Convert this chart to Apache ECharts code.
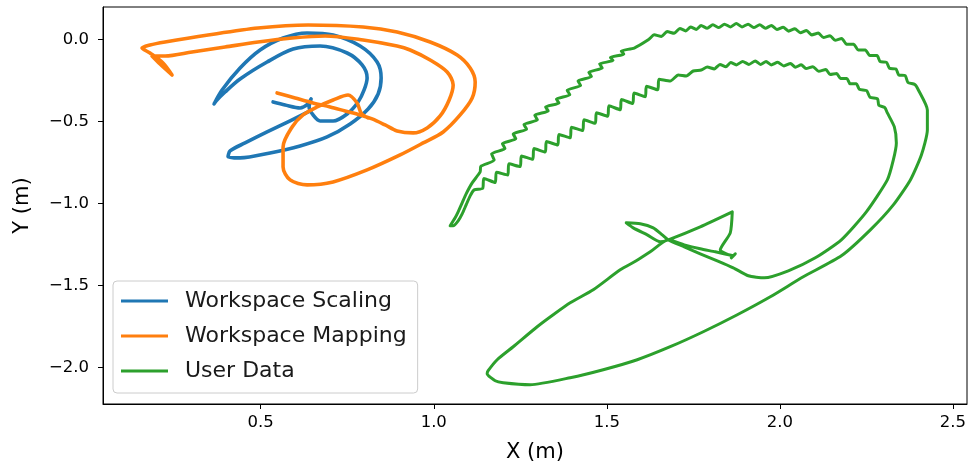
<!DOCTYPE html>
<html>
<head>
<meta charset="utf-8">
<script src="https://cdn.jsdelivr.net/npm/echarts@6/dist/echarts.min.js"></script>
<style>
  html, body { margin: 0; padding: 0; background: #ffffff; }
  #chart { width: 972px; height: 470px; }
</style>
</head>
<body>
<div id="chart"></div>
<script>
// Trajectory names, in drawing order
const seriesNames = ['Workspace Scaling', 'Workspace Mapping', 'User Data'];
const seriesColors = ['#1f77b4', '#ff7f0e', '#2ca02c'];

// Tick positions (metres)
const xTicks = [0.5, 1.0, 1.5, 2.0, 2.5];
const yTicks = [-2.0, -1.5, -1.0, -0.5, 0.0];

// Workspace Scaling path, [x, y] in metres
const scalingPath = [
  [0.5358,-0.3818],[0.5705,-0.4001],[0.6139,-0.4184],[0.6370,-0.3940],[0.6457,-0.3636],
  [0.6399,-0.4123],[0.6514,-0.4610],[0.6717,-0.4976],[0.7092,-0.4976],[0.7497,-0.4549],
  [0.7815,-0.3818],[0.7988,-0.3088],[0.8075,-0.2357],[0.7931,-0.1565],[0.7497,-0.0834],
  [0.6717,-0.0408],[0.5936,-0.0591],[0.5185,-0.1382],[0.4405,-0.2418],[0.3971,-0.3210],
  [0.3711,-0.3758],[0.3653,-0.3940],[0.3884,-0.3088],[0.4405,-0.1748],[0.4983,-0.0652],
  [0.5647,0.0079],[0.6341,0.0384],[0.7092,0.0262],[0.7873,-0.0408],[0.8364,-0.1382],
  [0.8480,-0.2357],[0.8393,-0.3331],[0.8104,-0.4245],[0.7584,-0.5158],[0.6919,-0.5950],
  [0.6139,-0.6498],[0.5272,-0.6924],[0.4405,-0.7229],[0.4058,-0.7168],[0.4116,-0.6803],
  [0.4549,-0.6316],[0.5185,-0.5646],[0.5850,-0.4976],[0.6370,-0.4427]
];

// Workspace Mapping path, [x, y] in metres
const mappingPath = [
  [0.5474,-0.3270],[0.5994,-0.3575],[0.6514,-0.3879],[0.7006,-0.4123],[0.7439,-0.4367],
  [0.7873,-0.4610],[0.8220,-0.4854],[0.8595,-0.5219],[0.8942,-0.5585],[0.9405,-0.5706],
  [0.9809,-0.5402],[1.0185,-0.4671],[1.0445,-0.3697],[1.0561,-0.2783],[1.0387,-0.1991],
  [0.9896,-0.1261],[0.9318,-0.0652],[0.8942,-0.0408],[0.7960,-0.0043],[0.6861,0.0201],
  [0.5908,0.0079],[0.4925,-0.0164],[0.3971,-0.0469],[0.3017,-0.0773],[0.2237,-0.1017],
  [0.1861,-0.1017],[0.2092,-0.1504],[0.2439,-0.2174],[0.2179,-0.1443],[0.1803,-0.0834],
  [0.1572,-0.0530],[0.1803,-0.0347],[0.2237,-0.0164],[0.3480,0.0262],[0.4925,0.0688],
  [0.6370,0.0871],[0.7960,0.0749],[0.8942,0.0445],[0.9896,-0.0164],[1.0676,-0.0956],
  [1.1052,-0.1748],[1.1197,-0.2601],[1.1110,-0.3575],[1.0763,-0.4610],[1.0272,-0.5646],
  [0.9694,-0.6316],[0.9029,-0.7046],[0.8075,-0.7960],[0.7092,-0.8691],[0.6341,-0.8873],
  [0.5850,-0.8569],[0.5647,-0.7777],[0.5647,-0.6559],[0.5908,-0.5341],[0.6225,-0.4610],
  [0.6630,-0.4123],[0.7092,-0.3697],[0.7526,-0.3392],[0.7786,-0.3879],[0.7902,-0.4488],
  [0.8104,-0.4793]
];

// User Data path, [x, y] in metres
const userPath = [
  // from the end blob, down the left flank and round the bottom
  [1.8653,-1.3197],[1.8133,-1.2954],[1.7699,-1.2771],[1.7237,-1.2527],[1.6775,-1.2223],
  [1.6254,-1.2954],[1.5850,-1.3502],[1.5387,-1.4050],[1.4607,-1.5268],[1.3942,-1.6060],
  [1.3451,-1.6790],[1.2988,-1.7521],[1.2295,-1.8739],[1.1832,-1.9531],[1.1572,-2.0201],
  [1.1543,-2.0384],[1.1775,-2.0810],[1.2006,-2.0932],[1.2786,-2.1054],[1.3942,-2.0627],
  [1.4896,-2.0140],[1.5879,-1.9531],[1.6832,-1.8739],[1.7786,-1.7826],[1.8769,-1.6790],
  [1.9723,-1.5694],[2.0676,-1.4476],[2.1775,-1.3197],[2.2613,-1.1614],[2.3277,-1.0091],
  [2.3769,-0.8569],[2.4087,-0.7046],[2.4260,-0.5524],[2.4260,-0.4306],[2.4000,-0.3088],
  // outer arc over the top
  [2.3896,-0.2753],[2.3699,-0.2631],[2.3621,-0.2217],[2.3434,-0.2174],[2.3353,-0.1809],
  [2.3165,-0.1766],[2.3081,-0.1407],[2.2896,-0.1358],[2.2806,-0.0993],[2.2598,-0.0993],
  [2.2468,-0.0646],[2.2260,-0.0646],[2.2133,-0.0305],[2.1922,-0.0298],[2.1786,0.0055],
  [2.1595,-0.0061],[2.1448,0.0219],[2.1257,0.0104],[2.1113,0.0378],[2.0919,0.0268],
  [2.0769,0.0542],[2.0590,0.0396],[2.0431,0.0646],[2.0251,0.0499],[2.0095,0.0743],
  [1.9913,0.0603],[1.9754,0.0847],[1.9581,0.0670],[1.9416,0.0889],[1.9243,0.0713],
  [1.9081,0.0926],[1.8905,0.0755],[1.8740,0.0968],[1.8575,0.0755],[1.8399,0.0926],
  [1.8237,0.0713],[1.8064,0.0889],[1.7899,0.0670],[1.7723,0.0847],[1.7584,0.0603],
  [1.7419,0.0755],[1.7280,0.0512],[1.7110,0.0664],[1.6948,0.0371],[1.6740,0.0469],
  [1.6578,0.0177],[1.6370,0.0274],[1.6208,-0.0018],
  // outer left flank, strongly serrated
  [1.5792,-0.0530],[1.5416,-0.0713],[1.5491,-0.0907],[1.5104,-0.1102],[1.5179,-0.1297],
  [1.4792,-0.1492],[1.4867,-0.1748],[1.4480,-0.2010],[1.4555,-0.2272],[1.4168,-0.2540],
  [1.4243,-0.2820],[1.3855,-0.3100],[1.3931,-0.3380],[1.3543,-0.3642],[1.3618,-0.3886],
  [1.3231,-0.4129],[1.3306,-0.4367],[1.2919,-0.4622],[1.2994,-0.4909],[1.2607,-0.5195],
  [1.2682,-0.5481],[1.2295,-0.5767],[1.2370,-0.6066],[1.1983,-0.6358],[1.2058,-0.6656],
  [1.1671,-0.6979],[1.1746,-0.7363],[1.1358,-0.7753],[1.1341,-0.8082],
  [1.1110,-0.8752],[1.0936,-0.9421],[1.0821,-0.9970],[1.0705,-1.0518],[1.0618,-1.0883],
  [1.0474,-1.1370],[1.0561,-1.1370],[1.0705,-1.1066],[1.0821,-1.0639],[1.0936,-1.0091],
  [1.1052,-0.9543],[1.1168,-0.9178],
  // inner left flank, serrated
  [1.1413,-0.9087],[1.1449,-0.8484],[1.1775,-0.8727],[1.1811,-0.8100],[1.2136,-0.8270],
  [1.2172,-0.7588],[1.2497,-0.7759],[1.2533,-0.7107],[1.2858,-0.7314],[1.2895,-0.6663],
  [1.3220,-0.6870],[1.3256,-0.6230],[1.3581,-0.6437],[1.3617,-0.5798],[1.3942,-0.6005],
  [1.3978,-0.5353],[1.4303,-0.5560],[1.4340,-0.4909],[1.4665,-0.5122],[1.4701,-0.4482],
  [1.5026,-0.4689],[1.5062,-0.4056],[1.5387,-0.4290],[1.5423,-0.3672],[1.5749,-0.3910],
  [1.5785,-0.3276],[1.6110,-0.3496],[1.6146,-0.2862],[1.6471,-0.3076],[1.6507,-0.2430],
  [1.6832,-0.2540],[1.7064,-0.2174],[1.7295,-0.2235],[1.7497,-0.1931],[1.7728,-0.1870],
  // inner arc
  [1.7902,-0.1693],[1.8104,-0.1803],[1.8269,-0.1529],[1.8439,-0.1669],[1.8578,-0.1419],
  [1.8743,-0.1559],[1.8925,-0.1346],[1.9104,-0.1529],[1.9289,-0.1315],[1.9439,-0.1529],
  [1.9601,-0.1346],[1.9749,-0.1559],[1.9936,-0.1401],[2.0116,-0.1626],[2.0306,-0.1468],
  [2.0448,-0.1705],[2.0616,-0.1547],[2.0754,-0.1784],[2.0954,-0.1669],[2.1121,-0.1949],
  [2.1329,-0.1839],[2.1448,-0.2144],[2.1639,-0.2083],[2.1751,-0.2381],[2.1936,-0.2381],
  [2.2026,-0.2716],[2.2211,-0.2716],[2.2295,-0.3045],[2.2506,-0.3130],[2.2604,-0.3532],
  [2.2821,-0.3636],[2.2858,-0.4019],[2.3032,-0.4166],[2.3104,-0.4488],
  [2.3306,-0.5341],[2.3364,-0.6316],[2.3277,-0.7351],[2.3104,-0.8569],
  [2.2497,-1.0518],[2.1775,-1.2223],[2.1023,-1.3319],[2.0243,-1.4111],[1.9549,-1.4537],
  [1.9087,-1.4415],[1.8653,-1.3928],[1.8191,-1.3502],[1.7699,-1.3075],[1.7237,-1.2649],
  [1.6775,-1.2223],
  // small lens, start dot and triangle
  [1.6601,-1.1919],[1.6341,-1.1492],[1.5965,-1.1248],[1.5561,-1.1188],[1.5763,-1.1492],
  [1.6168,-1.1919],[1.6543,-1.2345],[1.6775,-1.2223],[1.7699,-1.1431],[1.8624,-1.0518],
  [1.8566,-1.1797],[1.8277,-1.2832],[1.8653,-1.3197],[1.8711,-1.3075],[1.8595,-1.3319],
  [1.8653,-1.3197]
];

const paths = [scalingPath, mappingPath, userPath];
const lineWidths = [3.6, 3.6, 3];
// the workspace paths are rounded off strongly, the user path only lightly
const smoothing = [0.3, 0.3, 0.2];

const fontFamily = '"DejaVu Sans", Verdana, sans-serif';
const fmtTick = v => {
  const s = Math.abs(v).toFixed(1);
  return v < -1e-9 ? '\u2212' + s : s;
};

const chart = echarts.init(document.getElementById('chart'), null, { renderer: 'canvas' });

chart.setOption({
  animation: false,
  backgroundColor: '#ffffff',
  grid: {
    left: 103, right: 5, top: 7, bottom: 66,
    show: true, borderColor: '#000000', borderWidth: 1, backgroundColor: 'transparent'
  },
  xAxis: {
    type: 'value',
    min: 0.0445, max: 2.5405,
    name: 'X (m)',
    nameLocation: 'middle',
    nameGap: 38,
    nameTextStyle: { fontFamily, fontSize: 21, color: '#000000' },
    axisLine: { show: true, onZero: false, lineStyle: { color: '#000000', width: 1 } },
    axisTick: { show: true, inside: false, length: 5, customValues: xTicks,
      lineStyle: { color: '#000000', width: 1 } },
    axisLabel: { customValues: xTicks, formatter: fmtTick, margin: 10,
      fontFamily, fontSize: 16.5, color: '#000000' },
    splitLine: { show: false }
  },
  yAxis: {
    type: 'value',
    min: -2.223, max: 0.197,
    name: 'Y (m)',
    nameLocation: 'middle',
    nameGap: 70,
    nameRotate: 90,
    nameTextStyle: { fontFamily, fontSize: 21, color: '#000000' },
    axisLine: { show: true, onZero: false, lineStyle: { color: '#000000', width: 1 } },
    axisTick: { show: true, inside: false, length: 5, customValues: yTicks,
      lineStyle: { color: '#000000', width: 1 } },
    axisLabel: { customValues: yTicks, formatter: fmtTick, margin: 14,
      fontFamily, fontSize: 16.5, color: '#000000' },
    splitLine: { show: false }
  },
  legend: {
    orient: 'vertical',
    left: 113, top: 281,
    data: seriesNames,
    icon: 'rect',
    itemWidth: 47, itemHeight: 3,
    itemGap: 13,
    selectedMode: false,
    padding: [9, 11, 11, 8],
    backgroundColor: 'rgba(255,255,255,0.8)',
    borderColor: '#cccccc', borderWidth: 1, borderRadius: 4,
    textStyle: { fontFamily, fontSize: 22, lineHeight: 22, color: '#1a1a1a',
      padding: [0, 0, 0, 12] }
  },
  series: paths.map((data, i) => ({
    name: seriesNames[i],
    type: 'line',
    data,
    showSymbol: false,
    symbol: 'none',
    smooth: smoothing[i],
    clip: true,
    z: 2 + i,
    color: seriesColors[i],
    lineStyle: { color: seriesColors[i], width: lineWidths[i], join: 'round', cap: 'round' },
    emphasis: { disabled: true }
  }))
});
</script>
</body>
</html>
